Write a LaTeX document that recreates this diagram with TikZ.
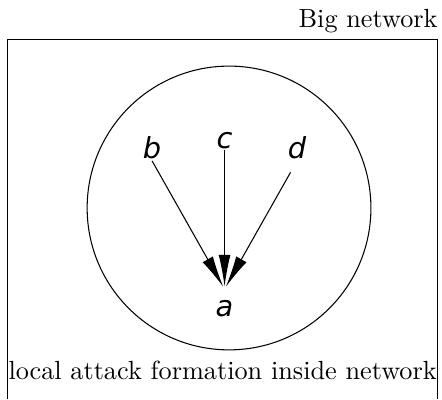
\documentclass[tikz,border=0pt]{standalone}
\usepackage{fontspec}
\newfontfamily\letterfont{DejaVu Sans}
\usetikzlibrary{arrows.meta, positioning}

\begin{document}
\begin{tikzpicture}[
    letter/.style={font=\letterfont\itshape\fontsize{11}{13}\selectfont, inner sep=0.5pt, anchor=base},
    arrow/.style={-{Latex[length=12pt, width=4.5pt]}, shorten >=1pt},
    caption/.style={inner sep=0pt}
]
\useasboundingbox (-3.067,-2.558) rectangle (2.852,2.785);

% big network frame (open at the bottom)
\coordinate (frameBL) at (-2.966,-2.558);
\coordinate (frameTR) at (2.792,2.25);
\draw (frameBL) |- (frameTR) -- (frameTR |- frameBL);

% labels
\node[caption, anchor=base east] (bigLabel) at (2.80,2.42) {Big network};
\node[caption, anchor=base west] (localLabel) at (-2.96,-2.30) {local attack formation inside network};

% local neighbourhood
\node[circle, draw, minimum size=3.8cm] (local) at (0,0) {};

% nodes
\node[letter, inner sep=4pt] (a) at (-0.06,-1.45) {a};
\node[letter] (c) at (-0.06,0.80) {c};
\node[letter] (b) at (-1.03,0.66) {b};
\node[letter] (d) at (0.91,0.66) {d};

% attacks
\draw[arrow] (b.south) -- (a.north);
\draw[arrow] (c) -- (a.north);
\draw[arrow, shorten <=5pt] (d.south) -- (a.north);

\end{tikzpicture}
\end{document}
